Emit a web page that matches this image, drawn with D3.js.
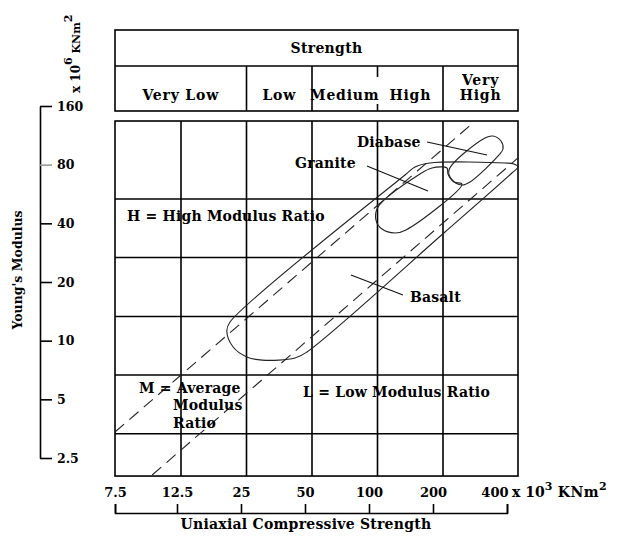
<!DOCTYPE html>
<html><head><meta charset="utf-8">
<script src="https://cdn.jsdelivr.net/npm/d3@7/dist/d3.min.js"></script>
<style>
body{margin:0;background:#fff}
svg text{font-family:"DejaVu Serif",serif;font-weight:bold;fill:#000}
</style></head><body>
<svg id="chart" width="626" height="536"></svg>
<script>
// ---------- data ----------
const strengthTicks = [7.5, 12.5, 25, 50, 100, 200, 400];
const strengthTickLabels = ["7.5", "12.5", "25", "50", "100", "200", "400"];
const modulusTicks = [160, 80, 40, 20, 10, 5, 2.5];
const modulusTickLabels = ["160", "80", "40", "20", "10", "5", "2.5"];
const strengthClasses = ["Very Low", "Low", "Medium", "High", "Very High"];
const classBounds = [7.5, 25, 50, 100, 200, 400];
const gridStrength = [12.5, 25, 50, 100, 200];
const gridModulus = [53.3, 26.7, 13.3, 6.67, 3.33];
const plotModulusRange = [2.02, 134];
// envelopes: [strength (x10^3 kN/m2), modulus (x10^6 kN/m2)]
const basalt = [[21.0,12.46],[20.3,11.21],[21.7,9.28],[25.1,8.25],[29.5,7.95],[41.8,8.15],[47.4,8.75],[203.7,36.1],[378,72.5],[400,77.8],[385,80.6],[355,81.6],[174,81.6],[148.7,77.8],[133.8,70.8]];
const granite = [[100.5,48.5],[98.4,41.6],[104.9,37.4],[120.3,35.7],[135.2,37.0],[238.3,63.6],[221.4,65.2],[209.4,71.7],[207.5,76.9],[178,76.9],[156.8,71.7]];
const diabase = [[211.4,75.1],[294.8,109.6],[317.5,112.2],[341.8,105.8],[348.2,96.3],[335.6,89.7],[256.7,65.2],[238.3,62.9],[217.4,66.8]];
// modulus-ratio boundary lines (dashed)
const ratioLineHigh = [[7.5,3.40],[263.9,130.9]];
const ratioLineLow = [[10.0,2.045],[400,86.6]];
// leaders and labels
const leaderDiabase = [[168.9,104.6],[300.4,89.7]];
const leaderGranite = [[89.5,78.7],[170.6,58.6]];
const leaderBasalt = [[75.5,21.7],[131,17.15]];
const labelNames = ["Diabase", "Granite", "H = High Modulus Ratio", "Basalt", "L = Low Modulus Ratio"];
const labelStrength = [80.5, 41.8, 8.23, 141, 45.5];
const labelModulus = [98.6, 76.9, 41.1, 15.79, 5.14];
const mLabelLines = ["M = Average", "Modulus", "Ratio"];
const mLabelStrength = [9.03, 11.75, 11.75];
const mLabelModulus = [5.39, 4.41, 3.56];

// ---------- layout ----------
const svg = d3.select("#chart");
const headerTop = 30, headerRow = 66, headerBottom = 111;
const x = d3.scaleLog().domain([7.5, 12.5, 200, 400]).range([115, 181, 443, 518]);
const xAxisScale = d3.scaleLog().domain([7.5, 12.5, 200, 400]).range([115, 177, 433, 507]);
const y = d3.scaleLog().domain([2.5, 160]).range([458, 106]);
const L = x(7.5), R = x(400), T = y(plotModulusRange[1]), B = y(plotModulusRange[0]);
const lw = 1.6;

// header table
const hdr = svg.append("g").attr("stroke", "#000").attr("stroke-width", lw).attr("fill", "none");
hdr.append("rect").attr("x", L).attr("y", headerTop).attr("width", R - L).attr("height", headerBottom - headerTop);
hdr.append("line").attr("x1", L).attr("x2", R).attr("y1", headerRow).attr("y2", headerRow);
classBounds.slice(1, -1).forEach(b => {
  if (b === 100) {
    hdr.append("line").attr("x1", x(b)).attr("x2", x(b)).attr("y1", headerRow).attr("y2", headerRow + 11);
    hdr.append("line").attr("x1", x(b)).attr("x2", x(b)).attr("y1", headerBottom - 7).attr("y2", headerBottom);
  } else {
    hdr.append("line").attr("x1", x(b)).attr("x2", x(b)).attr("y1", headerRow).attr("y2", headerBottom);
  }
});
svg.append("text").attr("x", (L + R) / 2 + 10).attr("y", 53).attr("text-anchor", "middle")
  .attr("font-size", 14).attr("letter-spacing", 0.3).text("Strength");
strengthClasses.forEach((c, i) => {
  const cx = (x(classBounds[i]) + x(classBounds[i + 1])) / 2;
  const parts = c === "Very High" ? ["Very", "High"] : [c];
  parts.forEach((p, j) => {
    svg.append("text").attr("x", cx).attr("y", 100 - (parts.length - 1 - j) * 15)
      .attr("text-anchor", "middle").attr("font-size", 14).attr("letter-spacing", 0.8).text(p);
  });
});

// plot frame and grid
const grid = svg.append("g").attr("stroke", "#000").attr("stroke-width", lw).attr("fill", "none");
grid.append("rect").attr("x", L).attr("y", T).attr("width", R - L).attr("height", B - T);
grid.selectAll(".gx").data(gridStrength).join("line")
  .attr("x1", d => x(d)).attr("x2", d => x(d)).attr("y1", T).attr("y2", B);
grid.selectAll(".gy").data(gridModulus).join("line")
  .attr("x1", L).attr("x2", R).attr("y1", d => y(d)).attr("y2", d => y(d));

// envelopes
const outline = d3.line().x(d => x(d[0])).y(d => y(d[1])).curve(d3.curveCatmullRomClosed.alpha(0.5));
const env = svg.append("g").attr("fill", "none").attr("stroke", "#222").attr("stroke-width", 1.1);
[basalt, granite, diabase].forEach(s => env.append("path").attr("d", outline(s)));

// dashed modulus ratio lines
const straight = d3.line().x(d => x(d[0])).y(d => y(d[1]));
[ratioLineHigh, ratioLineLow].forEach(l => svg.append("path").attr("d", straight(l))
  .attr("fill", "none").attr("stroke", "#222").attr("stroke-width", 1.1).attr("stroke-dasharray", "12,7"));

// leaders
[leaderDiabase, leaderGranite, leaderBasalt].forEach(l => svg.append("path").attr("d", straight(l))
  .attr("fill", "none").attr("stroke", "#111").attr("stroke-width", 1.1));

// labels
labelNames.forEach((t, i) => svg.append("text").attr("x", x(labelStrength[i])).attr("y", y(labelModulus[i]))
  .attr("font-size", 14).attr("letter-spacing", 0.2).text(t));
mLabelLines.forEach((t, i) => svg.append("text").attr("x", x(mLabelStrength[i])).attr("y", y(mLabelModulus[i]))
  .attr("font-size", 14).attr("letter-spacing", 0.2).text(t));

// left axis
const ya = svg.append("g").attr("transform", "translate(40,0)")
  .call(d3.axisRight(y).tickValues(modulusTicks).tickFormat((d, i) => modulusTickLabels[i])
    .tickSize(12).tickSizeOuter(0).tickPadding(5));
ya.select(".domain").attr("stroke", "#000").attr("stroke-width", lw);
ya.selectAll(".tick line").attr("stroke", d => d === 80 ? "#9a9a9a" : "#000").attr("stroke-width", lw);
ya.selectAll(".tick text").attr("font-family", "DejaVu Serif").attr("font-weight", "bold").attr("font-size", 12.5);

svg.append("text").attr("transform", "translate(22,270) rotate(-90)").attr("text-anchor", "middle")
  .attr("font-size", 12.5).text("Young's Modulus");
const yu = svg.append("text").attr("transform", "translate(80,93) rotate(-90)").attr("font-size", 12);
yu.append("tspan").text("x 10");
yu.append("tspan").attr("dy", -8).attr("font-size", 11).text("6");
yu.append("tspan").attr("dy", 8).attr("font-size", 11).text(" KNm");
yu.append("tspan").attr("dy", -8).attr("font-size", 11).text("2");

// bottom axis (bracket)
const xa = svg.append("g").attr("transform", "translate(0,513)")
  .call(d3.axisTop(xAxisScale).tickValues(strengthTicks).tickFormat((d, i) => strengthTickLabels[i])
    .tickSize(9).tickSizeOuter(9).tickPadding(7));
xa.select(".domain").attr("stroke", "#000").attr("stroke-width", lw);
xa.selectAll(".tick line").attr("stroke", "#000").attr("stroke-width", lw);
xa.selectAll(".tick text").attr("font-family", "DejaVu Serif").attr("font-weight", "bold").attr("font-size", 13)
  .filter(d => d === 400).attr("text-anchor", "end").attr("x", 1);
const xu = svg.append("text").attr("x", xAxisScale(400) + 5).attr("y", 497).attr("font-size", 14);
xu.append("tspan").text("x 10");
xu.append("tspan").attr("dy", -7).attr("font-size", 11).text("3");
xu.append("tspan").attr("dy", 7).attr("letter-spacing", 0.5).text(" KNm");
xu.append("tspan").attr("dy", -7).attr("font-size", 11).text("2");
svg.append("text").attr("x", 306).attr("y", 529).attr("text-anchor", "middle").attr("font-size", 14)
  .attr("letter-spacing", 0.25).text("Uniaxial Compressive Strength");
</script>
</body></html>
